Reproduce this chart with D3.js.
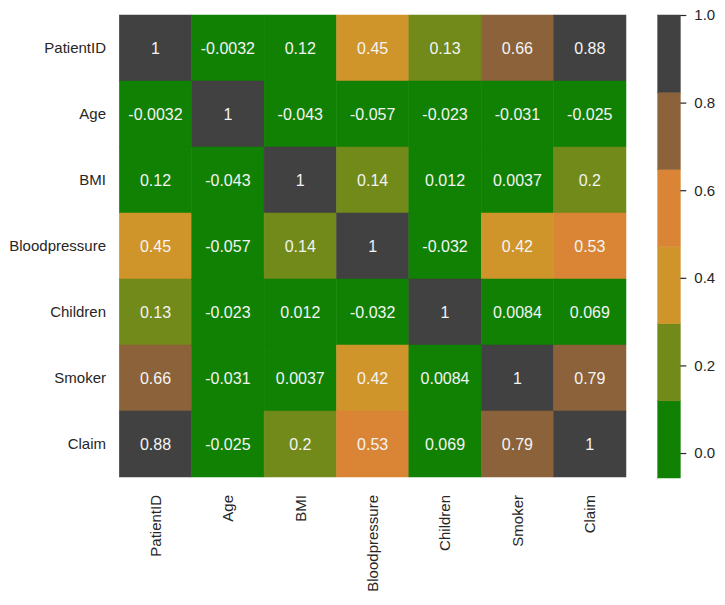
<!DOCTYPE html>
<html>
<head>
<meta charset="utf-8">
<script src="https://cdn.jsdelivr.net/npm/d3@7"></script>
<style>
  body { margin: 0; background: #fff; }
  text { font-family: "Liberation Sans", Arial, sans-serif; }
</style>
</head>
<body>
<script>
// variables on both axes
var labels = ["PatientID", "Age", "BMI", "Bloodpressure", "Children", "Smoker", "Claim"];

// correlation matrix, one row per variable
var rowPatientID     = [1, -0.0032, 0.118, 0.45, 0.13, 0.66, 0.88];
var rowAge           = [-0.0032, 1, -0.043, -0.057, -0.023, -0.031, -0.025];
var rowBMI           = [0.118, -0.043, 1, 0.14, 0.012, 0.0037, 0.2];
var rowBloodpressure = [0.45, -0.057, 0.14, 1, -0.032, 0.42, 0.53];
var rowChildren      = [0.13, -0.023, 0.012, -0.032, 1, 0.0084, 0.069];
var rowSmoker        = [0.66, -0.031, 0.0037, 0.42, 0.0084, 1, 0.79];
var rowClaim         = [0.88, -0.025, 0.2, 0.53, 0.069, 0.79, 1];
var matrix = [rowPatientID, rowAge, rowBMI, rowBloodpressure, rowChildren, rowSmoker, rowClaim];

var colorbarTicks = [0.0, 0.2, 0.4, 0.6, 0.8, 1.0];
var palette = ["#118104", "#718a1a", "#d0952a", "#d98535", "#8b6239", "#414141"];

var width = 725, height = 605;
var hm = {left: 119.3, right: 626, top: 15, bottom: 477};
var cb = {left: 657.7, right: 680.3};

var svg = d3.select("body").append("svg").attr("width", width).attr("height", height);

var x = d3.scaleBand().domain(labels).range([hm.left, hm.right]);
var y = d3.scaleBand().domain(labels).range([hm.top, hm.bottom]);

var all = d3.merge(matrix);
var vmin = d3.min(all), vmax = d3.max(all);
var color = d3.scaleQuantize().domain([vmin, vmax]).range(palette);

var cells = [];
matrix.forEach(function(row, i){
	row.forEach(function(v, j){ cells.push({r: labels[i], c: labels[j], v: v}); });
});

var fmt = function(v){ return +v.toPrecision(2) + ""; };

var cellG = svg.append("g");
cellG.selectAll("rect")
	.data(cells)
	.enter().append("rect")
		.attr("x", function(d){ return x(d.c); })
		.attr("y", function(d){ return y(d.r); })
		.attr("width", x.bandwidth())
		.attr("height", y.bandwidth())
		.attr("fill", function(d){ return color(d.v); })
		.attr("stroke", function(d){ return color(d.v); })
		.attr("stroke-width", 0.5);

cellG.selectAll("text")
	.data(cells)
	.enter().append("text")
		.attr("x", function(d){ return x(d.c) + x.bandwidth()/2; })
		.attr("y", function(d){ return y(d.r) + y.bandwidth()/2; })
		.attr("text-anchor", "middle")
		.attr("dy", "0.35em")
		.attr("fill", "#f4f4f4")
		.style("font-size", "16px")
		.text(function(d){ return fmt(d.v); });

// row labels
svg.append("g").selectAll("text")
	.data(labels)
	.enter().append("text")
		.attr("x", 106)
		.attr("y", function(d){ return y(d) + y.bandwidth()/2; })
		.attr("dy", "0.35em")
		.attr("text-anchor", "end")
		.attr("fill", "#262626")
		.style("font-size", "15px")
		.text(function(d){ return d; });

// column labels, rotated
svg.append("g").selectAll("text")
	.data(labels)
	.enter().append("text")
		.attr("transform", function(d){ return "translate(" + (x(d) + x.bandwidth()/2) + ",495) rotate(-90)"; })
		.attr("dy", "0.35em")
		.attr("text-anchor", "end")
		.attr("fill", "#262626")
		.style("font-size", "15px")
		.text(function(d){ return d; });

// colorbar
var cy = d3.scaleLinear().domain([vmin, vmax]).range([478, 15]);
var bins = palette.map(function(c){ var e = color.invertExtent(c); return {c: c, lo: e[0], hi: e[1]}; });
svg.append("g").selectAll("rect")
	.data(bins)
	.enter().append("rect")
		.attr("x", cb.left)
		.attr("width", cb.right - cb.left)
		.attr("y", function(d){ return cy(d.hi); })
		.attr("height", function(d){ return cy(d.lo) - cy(d.hi); })
		.attr("fill", function(d){ return d.c; })
		.attr("stroke", function(d){ return d.c; })
		.attr("stroke-width", 0.5);

var cbAxis = d3.axisRight(cy).tickValues(colorbarTicks).tickFormat(d3.format(".1f")).tickSize(6).tickPadding(8);
var cbG = svg.append("g").attr("transform", "translate(" + cb.right + ",0)").call(cbAxis);
cbG.select(".domain").remove();
cbG.selectAll("line").attr("stroke", "#262626").attr("stroke-width", 1.2);
cbG.selectAll("text").attr("fill", "#262626").style("font-size", "15px").style("font-family", "'Liberation Sans', Arial, sans-serif");
</script>
</body>
</html>
